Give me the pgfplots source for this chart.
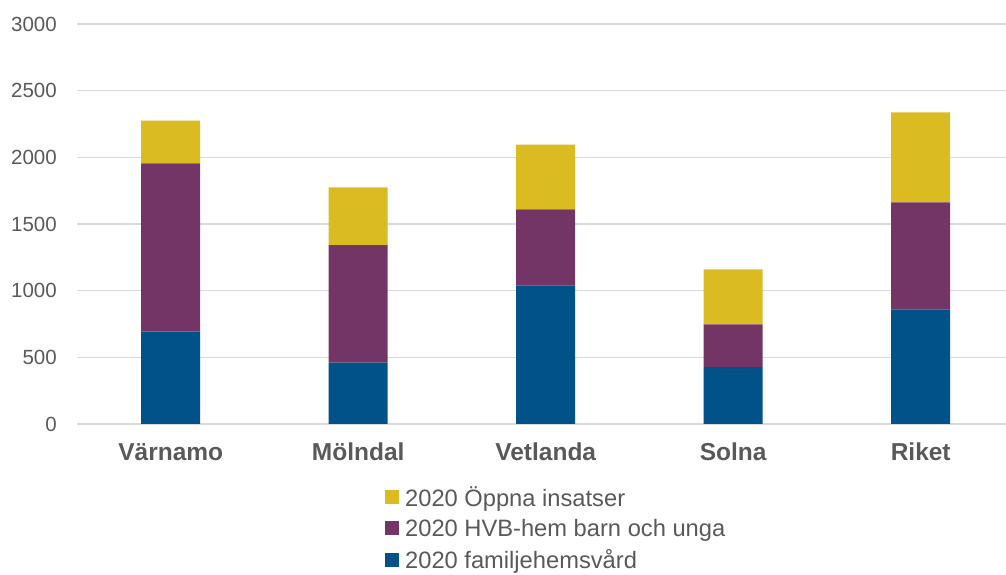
\documentclass[border=0pt]{standalone}
\usepackage{pgfplots}
\pgfplotsset{compat=1.18}
\usepackage{fontspec}
\setmainfont{Liberation Sans}
\definecolor{cblue}{HTML}{005289}
\definecolor{cpurple}{HTML}{733566}
\definecolor{cyellow}{HTML}{DBBB22}
\definecolor{ctext}{HTML}{595959}
\definecolor{cgrid}{HTML}{D9D9D9}
\begin{document}
\begin{tikzpicture}
\path[use as bounding box] (0pt,0pt) rectangle (1006pt,575pt);
\begin{axis}[
  at={(77pt,151pt)}, anchor=south west,
  scale only axis, width=929pt, height=400pt,
  ybar stacked, bar width=59pt,
  xmin=-0.5, xmax=4.455,
  ymin=0, ymax=3000,
  ytick={0,500,1000,1500,2000,2500,3000},
  xtick={0,1,2,3,4},
  xticklabels={Värnamo,Mölndal,Vetlanda,Solna,Riket},
  axis line style={draw=none},
  major tick length=0pt,
  ymajorgrids, major grid style={cgrid, line width=1.2pt},
  /pgf/number format/assume math mode=true,
  /pgf/number format/1000 sep={},
  yticklabel style={font=\fontsize{20.5}{24}\selectfont, text=ctext, inner sep=0pt, xshift=-20pt},
  xticklabel style={font=\fontsize{24.5}{28}\selectfont\bfseries, text=ctext, inner sep=0pt, anchor=base, yshift=-37pt},
  legend style={at={(0.3315,-0.15)}, anchor=north west, draw=none, fill=none, inner sep=0pt,
    font=\fontsize{23.7}{28}\selectfont, text=ctext, row sep=7.6pt, column sep=4pt, cells={anchor=west}},
  legend image code/.code={\fill[#1] (0pt,-7pt) rectangle (14pt,7pt);},
  reverse legend,
]
\addplot[fill=cblue, draw=none] coordinates {(0,692) (1,460) (2,1040) (3,427) (4,860)};
\addplot[fill=cpurple, draw=none] coordinates {(0,1263) (1,882) (2,570) (3,320) (4,802)};
\addplot[fill=cyellow, draw=none] coordinates {(0,320) (1,433) (2,485) (3,413) (4,675)};
\legend{2020 familjehemsvård, 2020 HVB-hem barn och unga, 2020 Öppna insatser}
\end{axis}
\end{tikzpicture}
\end{document}
